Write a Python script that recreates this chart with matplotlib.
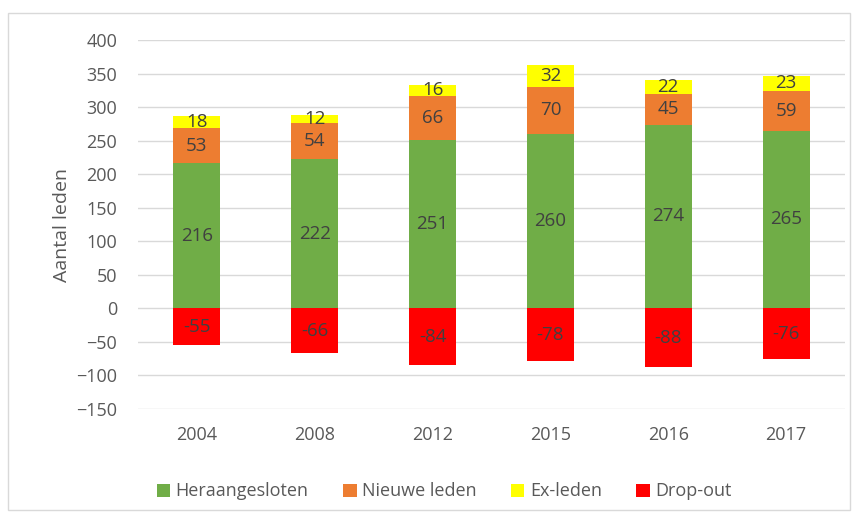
import matplotlib.pyplot as plt
import numpy as np
from matplotlib.patches import Rectangle

years = ['2004', '2008', '2012', '2015', '2016', '2017']
heraangesloten = [216, 222, 251, 260, 274, 265]
nieuwe_leden = [53, 54, 66, 70, 45, 59]
ex_leden = [18, 12, 16, 32, 22, 23]
drop_out = [-55, -66, -84, -78, -88, -76]

plt.rcParams['font.family'] = ['Open Sans', 'DejaVu Sans']
txt = '#595959'
lbl = '#404040'

fig = plt.figure(figsize=(8.59, 5.14), dpi=100)
ax = fig.add_axes([138 / 859, 1 - 409 / 514, 707 / 859, 369 / 514])

x = np.arange(len(years))
w = 0.4
h = np.array(heraangesloten)
n = np.array(nieuwe_leden)
e = np.array(ex_leden)
d = np.array(drop_out)

b1 = ax.bar(x, h, w, color='#70AD47', label='Heraangesloten', zorder=3)
b2 = ax.bar(x, n, w, bottom=h, color='#ED7D31', label='Nieuwe leden', zorder=3)
b3 = ax.bar(x, e, w, bottom=h + n, color='#FFFF00', label='Ex-leden', zorder=3)
b4 = ax.bar(x, d, w, color='#FF0000', label='Drop-out', zorder=3)

for bars in (b1, b2, b3, b4):
    ax.bar_label(bars, label_type='center', color=lbl, fontsize=13.5, zorder=4)

ax.set_ylim(-150, 400)
ax.set_yticks(range(-150, 401, 50))
ax.set_xlim(-0.5, len(years) - 0.5)
ax.set_xticks(x, years)
ax.grid(axis='y', color='#D9D9D9', linewidth=1, zorder=0)
for s in ax.spines.values():
    s.set_visible(False)
ax.tick_params(length=0, labelsize=13, colors=txt)
ax.tick_params(axis='y', pad=15)
ax.tick_params(axis='x', pad=12)
ax.set_ylabel('Aantal leden', fontsize=14, color=txt, labelpad=4)

ax.legend(loc='upper center', bbox_to_anchor=(0.433, -0.155), ncol=4, frameon=False,
          fontsize=13, labelcolor=txt, handlelength=0.75, handleheight=0.75,
          handletextpad=0.3, columnspacing=1.9)

fig.patches.append(Rectangle((8 / 859, 4 / 514), 842 / 859, 497 / 514,
                             transform=fig.transFigure, fill=False,
                             edgecolor='#D9D9D9', linewidth=1))

fig.savefig('out.png', dpi=100)
